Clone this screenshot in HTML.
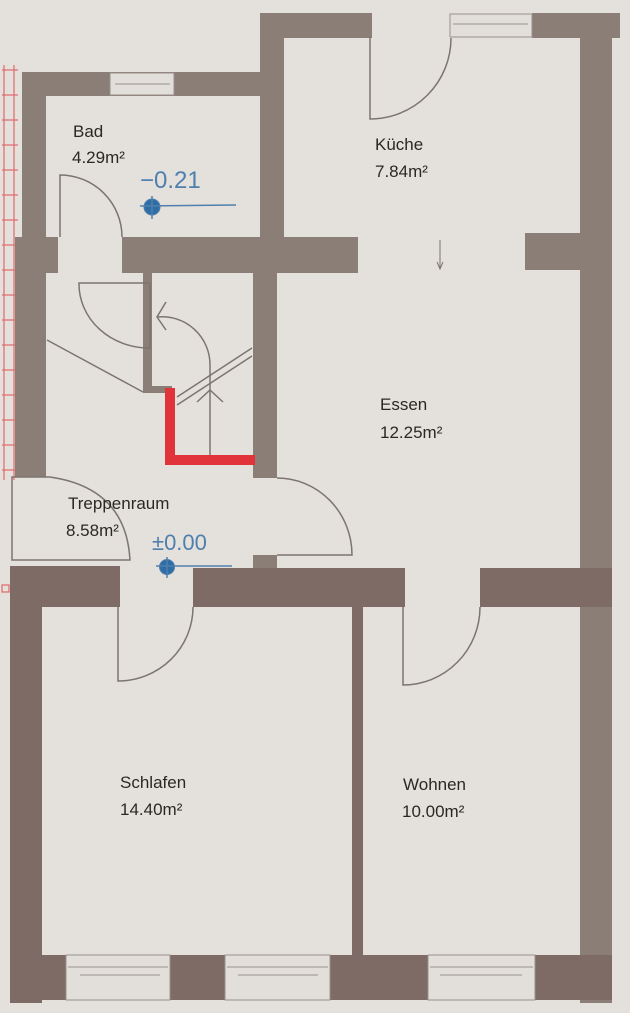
<!DOCTYPE html>
<html><head><meta charset="utf-8"><style>
html,body{margin:0;padding:0;background:#e4e1dc;}
svg{display:block}
text{font-family:"Liberation Sans",sans-serif;fill:#2a2826}
.b{fill:#4f7fae;font-family:"Liberation Sans",sans-serif}
</style></head><body>
<svg width="630" height="1013" viewBox="0 0 630 1013" xmlns="http://www.w3.org/2000/svg">
<rect width="630" height="1013" fill="#e4e1dc"/>
<!-- red margin markings -->
<g stroke="#e04a4a" stroke-width="1.2" fill="none" opacity="0.8">
<line x1="14" y1="65" x2="14" y2="480"/>
<line x1="4" y1="65" x2="4" y2="480"/>
<g id="t"><line x1="2" y1="70" x2="18" y2="70"/><line x1="2" y1="95" x2="18" y2="95"/><line x1="2" y1="120" x2="18" y2="120"/><line x1="2" y1="145" x2="18" y2="145"/><line x1="2" y1="170" x2="18" y2="170"/><line x1="2" y1="195" x2="18" y2="195"/><line x1="2" y1="220" x2="18" y2="220"/><line x1="2" y1="245" x2="18" y2="245"/><line x1="2" y1="270" x2="18" y2="270"/><line x1="2" y1="295" x2="18" y2="295"/><line x1="2" y1="320" x2="18" y2="320"/><line x1="2" y1="345" x2="18" y2="345"/><line x1="2" y1="370" x2="18" y2="370"/><line x1="2" y1="395" x2="18" y2="395"/><line x1="2" y1="420" x2="18" y2="420"/><line x1="2" y1="445" x2="18" y2="445"/><line x1="2" y1="470" x2="18" y2="470"/></g>
<rect x="2" y="585" width="7" height="7"/>
</g>
<g fill="#8b7e77">
<!-- Bad top wall -->
<rect x="22" y="72" width="262" height="24"/>
<!-- left wall upper -->
<rect x="22" y="72" width="24" height="170"/>
<rect x="15" y="237" width="31" height="240"/>
<rect x="15" y="237" width="43" height="36"/>
<!-- Küche top & left -->
<rect x="260" y="13" width="112" height="25"/>
<rect x="532" y="13" width="88" height="25"/>
<rect x="260" y="13" width="24" height="260"/>
<!-- right wall -->
<rect x="580" y="13" width="32" height="990"/>
<!-- mid horizontal -->
<rect x="122" y="237" width="236" height="36"/>
<rect x="525" y="233" width="60" height="37"/>
<!-- stair/Essen wall -->
<rect x="253" y="270" width="24" height="208"/>
<rect x="253" y="555" width="24" height="15"/>
<!-- stair small wall -->
<rect x="143" y="272" width="9" height="120"/>
<rect x="143" y="386" width="29" height="7"/>
</g>
<g fill="#7f6b66">
<!-- horizontal wall lower -->
<rect x="10" y="566" width="110" height="41"/>
<rect x="193" y="568" width="212" height="39"/>
<rect x="480" y="568" width="132" height="39"/>
<rect x="10" y="566" width="32" height="437"/>
<rect x="352" y="607" width="11" height="360"/>
<rect x="10" y="955" width="602" height="45"/>
</g>
<!-- windows -->
<g fill="#e2dfda" stroke="#9a918b" stroke-width="1">
<rect x="110" y="73" width="64" height="22"/>
<line x1="115" y1="84" x2="170" y2="84"/>
<rect x="450" y="14" width="82" height="23"/>
<line x1="453" y1="24" x2="528" y2="24"/>
<rect x="66" y="955" width="104" height="45"/>
<line x1="68" y1="967" x2="168" y2="967"/><line x1="80" y1="975" x2="160" y2="975"/>
<rect x="225" y="955" width="105" height="45"/>
<line x1="227" y1="967" x2="328" y2="967"/><line x1="238" y1="975" x2="318" y2="975"/>
<rect x="428" y="955" width="107" height="45"/>
<line x1="430" y1="967" x2="533" y2="967"/><line x1="440" y1="975" x2="522" y2="975"/>
</g>
<!-- doors -->
<g fill="none" stroke="#7c746f" stroke-width="1.5">
<path d="M370 37 L370 119 A81 81 0 0 0 451 38"/>
<path d="M60 237 L60 175 A62 62 0 0 1 122 237"/>
<path d="M150 283 L79 283 A70 64 0 0 0 150 348 Z"/>
<line x1="47" y1="340" x2="143" y2="392"/>
<path d="M12 560 L12 477 L50 477 Q126 488 130 560 Z"/>
<path d="M277 478 A75 77 0 0 1 352 555 L277 555"/>
<path d="M118 607 L118 681 A75 74 0 0 0 193 607"/>
<path d="M403 607 L403 685 A77 78 0 0 0 480 607"/>
<!-- stair -->
<path d="M210 465 L210 365 A48 48 0 0 0 157 317"/>
<path d="M166 302 L157 317 L166 330"/>
<path d="M197 402 L210 390 L223 402"/>
<line x1="177" y1="405" x2="252" y2="356"/>
<line x1="177" y1="397" x2="252" y2="348"/>
<line x1="440" y1="240" x2="440" y2="268" stroke-width="1"/>
<path d="M437 262 L440 269 L443 262" stroke-width="1"/>
</g>
<!-- red L -->
<path d="M170 388 L170 460 L255 460" fill="none" stroke="#e0333a" stroke-width="10"/>
<!-- labels -->
<text x="73" y="137" font-size="17">Bad</text>
<text x="72" y="163" font-size="17">4.29m²</text>
<text x="375" y="150" font-size="17">Küche</text>
<text x="375" y="177" font-size="17">7.84m²</text>
<text x="380" y="410" font-size="17">Essen</text>
<text x="380" y="438" font-size="17">12.25m²</text>
<text x="68" y="509" font-size="17">Treppenraum</text>
<text x="66" y="536" font-size="17">8.58m²</text>
<text x="120" y="788" font-size="17">Schlafen</text>
<text x="120" y="815" font-size="17">14.40m²</text>
<text x="403" y="790" font-size="17">Wohnen</text>
<text x="402" y="817" font-size="17">10.00m²</text>
<text class="b" x="140" y="188" font-size="24">−0.21</text>
<text class="b" x="152" y="550" font-size="22">±0.00</text>
<g fill="#2f6ea5" stroke="#4f7fae">
<circle cx="152" cy="207" r="8"/>
<line x1="152" y1="196" x2="152" y2="219" stroke-width="1.5"/>
<line x1="140" y1="206" x2="236" y2="205" stroke-width="1.5"/>
<circle cx="167" cy="567" r="7.5"/>
<line x1="167" y1="557" x2="167" y2="578" stroke-width="1.5"/>
<line x1="156" y1="566" x2="232" y2="566" stroke-width="1.5"/>
</g>
</svg>
</body></html>
